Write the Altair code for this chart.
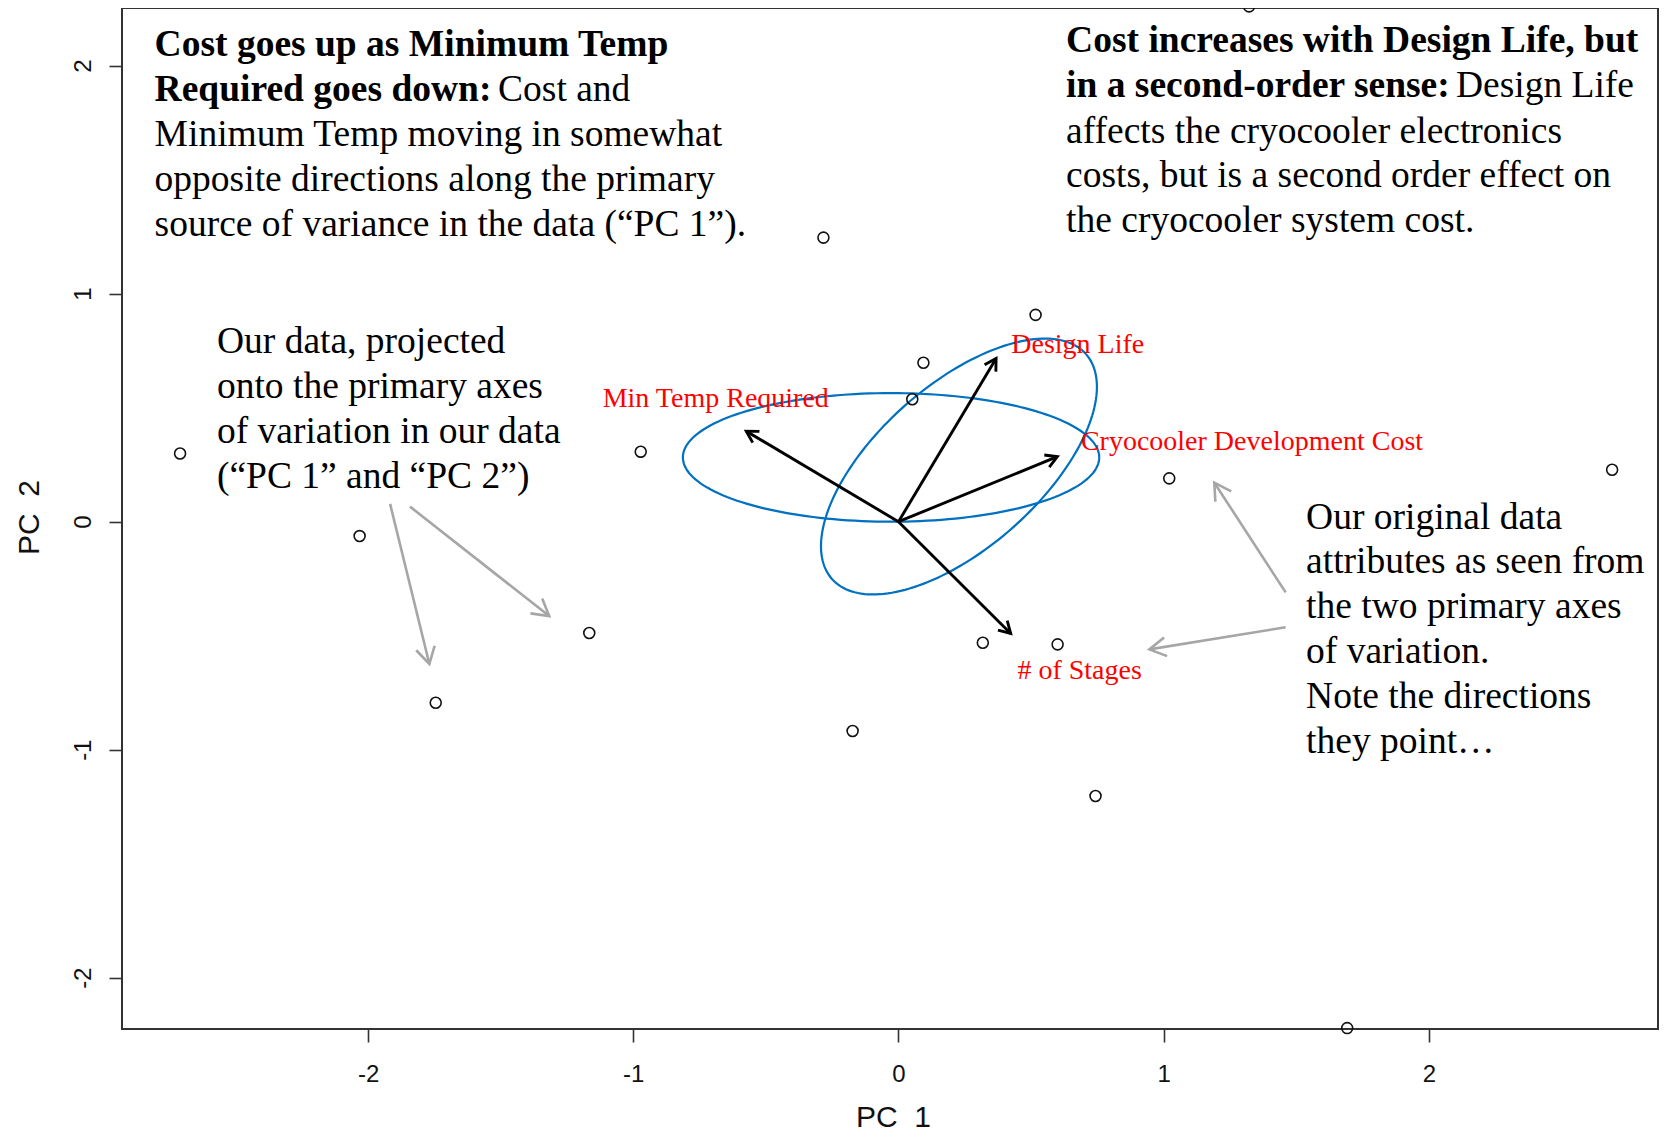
import altair as alt
import pandas as pd
import numpy as np

# ---------------- data ----------------
# PCA scores (PC1, PC2)
pc1 = [-2.709, -2.032, -1.745, -1.166, -0.972, -0.283, -0.173, 0.052, 0.094,
       0.517, 0.318, 0.600, 0.743, 1.021, 1.322, 1.692, 2.691]
pc2 = [0.299, -0.063, -0.794, -0.488, 0.307, 1.246, -0.918, 0.537, 0.697,
       0.907, -0.531, -0.538, -1.203, 0.190, 2.260, -2.221, 0.228]

# variable loadings (arrow tips) and label positions
var_names = ["Min Temp Required", "Design Life", "Cryocooler Development Cost", "# of Stages"]
load_pc1 = [-0.574, 0.368, 0.599, 0.423]
load_pc2 = [0.397, 0.716, 0.285, -0.490]
label_pc1 = [-0.689, 0.676, 1.333, 0.683]
label_pc2 = [0.540, 0.774, 0.350, -0.657]

# highlight ellipses: centre and two conjugate semi-axes (data units)
ell_cx = [-0.028, 0.228]
ell_cy = [0.282, 0.242]
ell_ux = [0.785, 0.479]
ell_uy = [0.000, 0.493]
ell_vx = [0.000, 0.203]
ell_vy = [0.282, -0.268]

# grey call-out arrows
call_x1 = [-1.917, -1.842, 1.460, 1.460]
call_y1 = [0.078, 0.066, -0.310, -0.463]
call_x2 = [-1.769, -1.317, 1.191, 0.946]
call_y2 = [-0.624, -0.414, 0.171, -0.560]

# text annotations
ann_x = [-2.805, -1.510, -2.805, 0.632, 2.102, 0.632, -2.570, 1.537]
ann_y = [2.042, 1.846, 1.646, 2.058, 1.862, 1.663, 0.738, -0.030]
ann_bold = [True, False, False, True, False, False, False, False]
ann_lines = [
    ["Cost goes up as Minimum Temp", "Required goes down:"],
    ["Cost and"],
    ["Minimum Temp moving in somewhat", "opposite directions along the primary",
     "source of variance in the data (\u201cPC 1\u201d)."],
    ["Cost increases with Design Life, but", "in a second-order sense:"],
    ["Design Life"],
    ["affects the cryocooler electronics", "costs, but is a second order effect on",
     "the cryocooler system cost."],
    ["Our data, projected", "onto the primary axes", "of variation in our data",
     "(\u201cPC 1\u201d and \u201cPC 2\u201d)"],
    ["Our original data", "attributes as seen from", "the two primary axes",
     "of variation.", "Note the directions", "they point\u2026"],
]

tick_vals = [-2, -1, 0, 1, 2]

# ---------------- layout ----------------
W, H = 1536, 1021
XDOM = [-2.928, 2.864]
YDOM = [-2.225, 2.253]
SX = W / (XDOM[1] - XDOM[0])
SY = H / (YDOM[1] - YDOM[0])

SERIF = "Liberation Serif"
SANS = "Liberation Sans"
CHEVRON = "M -1 -0.577 L 0 0 L -1 0.577"

xaxis = alt.Axis(values=tick_vals, title="PC\u00a0 1", grid=False, domain=False,
                 tickSize=13, tickWidth=1.6, tickColor="#333",
                 labelPadding=20, labelFontSize=24, labelFont=SANS, labelColor="#111",
                 labelFlush=False, labelOverlap=False,
                 labelExpr="datum.value < 0 ? '-' + (-datum.value) : '' + datum.value",
                 titleFont=SANS, titleFontSize=30, titleFontWeight="normal",
                 titleColor="#111", titleBaseline="alphabetic", titleY=97,
                 titleX=771, titleAlign="center")
yaxis = alt.Axis(values=tick_vals, title="PC\u00a0 2", grid=False, domain=False,
                 tickSize=13, tickWidth=1.6, tickColor="#333",
                 labelPadding=26, labelFontSize=24, labelFont=SANS, labelColor="#111",
                 labelAngle=270, labelAlign="center", labelBaseline="middle",
                 labelFlush=False, labelOverlap=False,
                 labelExpr="datum.value < 0 ? '-' + (-datum.value) : '' + datum.value",
                 titleFont=SANS, titleFontSize=30, titleFontWeight="normal",
                 titleColor="#111", titleAngle=270, titleBaseline="alphabetic",
                 titleX=-84, titleY=509, titleAlign="center")

xs = alt.Scale(domain=XDOM, nice=False, zero=False)
ys = alt.Scale(domain=YDOM, nice=False, zero=False)


def X(f="x"):
    return alt.X(f"{f}:Q", scale=xs, axis=xaxis)


def Y(f="y"):
    return alt.Y(f"{f}:Q", scale=ys, axis=yaxis)


def screen_angle(x1, y1, x2, y2):
    dx = (x2 - x1) * SX
    dy = -(y2 - y1) * SY
    return float(np.degrees(np.arctan2(dy, dx)) % 360)


# points
pts = pd.DataFrame({"x": pc1, "y": pc2})
points = alt.Chart(pts).mark_point(shape="circle", filled=False, size=120,
                                   color="#111", strokeWidth=1.6, opacity=1).encode(x=X(), y=Y())

# ellipses
rows = []
t = np.linspace(0, 2 * np.pi, 181)
for i in range(len(ell_cx)):
    for k, tt in enumerate(t):
        rows.append({"e": i, "k": k,
                     "x": ell_cx[i] + ell_ux[i] * np.cos(tt) + ell_vx[i] * np.sin(tt),
                     "y": ell_cy[i] + ell_uy[i] * np.cos(tt) + ell_vy[i] * np.sin(tt)})
ell_df = pd.DataFrame(rows)
ellipses = alt.Chart(ell_df).mark_line(color="#0070C0", strokeWidth=2.2).encode(
    x=X(), y=Y(), detail="e:N", order="k:Q")

# loading arrows
ld = pd.DataFrame({"x": [0.0] * 4, "y": [0.0] * 4, "x2": load_pc1, "y2": load_pc2,
                   "name": var_names})
ld["ang"] = [screen_angle(0, 0, a, b) for a, b in zip(load_pc1, load_pc2)]
load_lines = alt.Chart(ld).mark_rule(color="black", strokeWidth=2.9).encode(
    x=X(), y=Y(), x2="x2:Q", y2="y2:Q")
load_heads = alt.Chart(ld).mark_point(shape=CHEVRON, filled=False, size=520,
                                      color="black", strokeWidth=2.9, opacity=1).encode(
    x=X("x2"), y=Y("y2"), angle=alt.Angle("ang:Q", scale=None))

lab = pd.DataFrame({"x": label_pc1, "y": label_pc2, "name": var_names})
labels = alt.Chart(lab).mark_text(font=SERIF, fontSize=28, color="#FF0000",
                                  align="center", baseline="middle").encode(
    x=X(), y=Y(), text="name:N")

# grey call-outs
cd = pd.DataFrame({"x": call_x1, "y": call_y1, "x2": call_x2, "y2": call_y2})
cd["ang"] = [screen_angle(a, b, c, d) for a, b, c, d in zip(call_x1, call_y1, call_x2, call_y2)]
call_lines = alt.Chart(cd).mark_rule(color="#A6A6A6", strokeWidth=2.6).encode(
    x=X(), y=Y(), x2="x2:Q", y2="y2:Q")
call_heads = alt.Chart(cd).mark_point(shape=CHEVRON, filled=False, size=1080,
                                      color="#A6A6A6", strokeWidth=2.6, opacity=1).encode(
    x=X("x2"), y=Y("y2"), angle=alt.Angle("ang:Q", scale=None))

# annotation text blocks
texts = []
for i in range(len(ann_x)):
    d = pd.DataFrame({"x": [ann_x[i]], "y": [ann_y[i]]})
    texts.append(
        alt.Chart(d).mark_text(text=ann_lines[i], font=SERIF, fontSize=37.5,
                               fontWeight="bold" if ann_bold[i] else "normal",
                               color="black", align="left", baseline="alphabetic",
                               lineHeight=44.8).encode(x=X(), y=Y())
    )

chart = alt.layer(ellipses, load_lines, load_heads, points, labels,
                  call_lines, call_heads, *texts).properties(
    width=W, height=H,
    autosize=alt.AutoSizeParams(type="none"),
    padding={"left": 114, "top": 0, "right": 3, "bottom": 103},
    background="white",
).configure_view(stroke="#333", strokeWidth=2)

chart.save("out.html", embed_options={"renderer": "svg", "actions": False})
